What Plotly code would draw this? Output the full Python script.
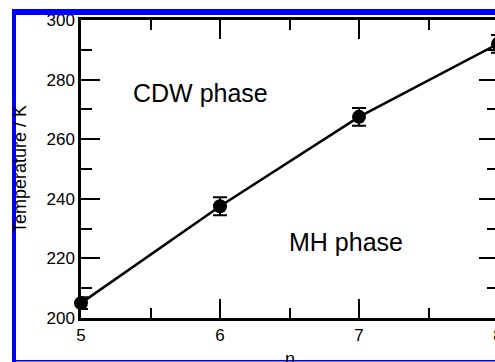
import plotly.graph_objects as go

# Transition temperature between CDW and MH phases versus n
n_values = [5, 6, 7, 8]
temperature = [205.0, 237.5, 267.5, 292.0]
temperature_err = [2.0, 3.0, 3.0, 3.0]

x_ticks = [5, 6, 7, 8]
y_ticks = [200, 220, 240, 260, 280, 300]

phase_labels = ["CDW phase", "MH phase"]
phase_x = [5.86, 6.91]
phase_y = [275.6, 225.4]

FONT = "Liberation Sans, Arial, Helvetica, sans-serif"
W, H = 520, 362
ML, MR, MT, MB = 81, 22, 20, 44
PW, PH = W - ML - MR, H - MT - MB


def px_x(p):
    return (p - ML) / PW


def px_y(q):
    return (H - MB - q) / PH


fig = go.Figure()

fig.add_trace(go.Scatter(
    x=n_values,
    y=temperature,
    mode="lines+markers",
    line=dict(color="black", width=2.5),
    marker=dict(color="black", size=14, symbol="circle"),
    error_y=dict(type="data", array=temperature_err, visible=True,
                 color="black", thickness=2, width=7),
    cliponaxis=False,
    showlegend=False,
))

for label, lx, ly in zip(phase_labels, phase_x, phase_y):
    fig.add_annotation(x=lx, y=ly, xref="x", yref="y", text=label,
                       showarrow=False, font=dict(family=FONT, size=25, color="black"))

# x-axis title sits low, partly below the lower frame edge
fig.add_annotation(x=0.5, y=px_y(347), xref="paper", yref="paper", text="n",
                   showarrow=False, yanchor="top",
                   font=dict(family=FONT, size=18, color="black"))

axis_common = dict(
    showline=True, linecolor="black", linewidth=2.5,
    ticks="inside", ticklen=19, tickwidth=2, tickcolor="black",
    mirror="allticks", showgrid=False, zeroline=False,
    tickfont=dict(family=FONT, size=17, color="black"),
)

fig.update_xaxes(
    range=[5, 8], tickvals=x_ticks,
    minor=dict(dtick=0.5, ticks="inside", ticklen=10, tickwidth=2, tickcolor="black"),
    **axis_common,
)
fig.update_yaxes(
    range=[200, 300], tickvals=y_ticks,
    minor=dict(dtick=10, ticks="inside", ticklen=11, tickwidth=2, tickcolor="black"),
    title=dict(text="Temperature / K", font=dict(family=FONT, size=18, color="black"), standoff=16),
    **axis_common,
)

# Blue frame around the figure (left, top, bottom edges)
frame = [
    (12, 9, 16, 362),
    (12, 9, W, 15),
    (12, 360, W, 361.6),
]
for x0, y0, x1, y1 in frame:
    fig.add_shape(type="rect", xref="paper", yref="paper",
                  x0=px_x(x0), x1=px_x(x1), y0=px_y(y1), y1=px_y(y0),
                  fillcolor="#0000ff", line=dict(width=0), layer="above")

fig.update_layout(
    width=W, height=H,
    margin=dict(l=ML, r=MR, t=MT, b=MB, autoexpand=False),
    paper_bgcolor="white", plot_bgcolor="white",
    font=dict(family=FONT, color="black"),
)

fig.write_html(
    "out.html",
    post_script="document.documentElement.style.overflow='hidden';document.body.style.overflow='hidden';",
)
